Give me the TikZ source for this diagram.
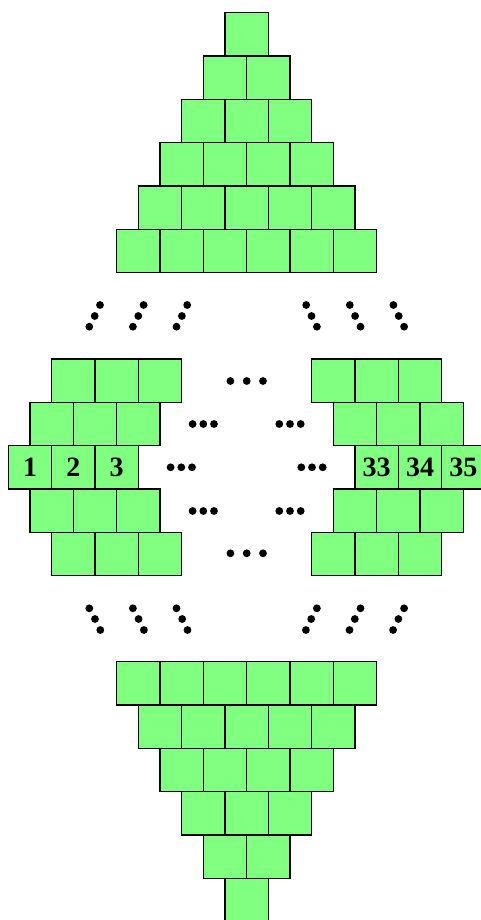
\documentclass[tikz,border=0pt]{standalone}
\usepackage{fontspec}
\setmainfont{Liberation Serif}
\definecolor{sqgreen}{RGB}{128,255,128}
\begin{document}
\begin{tikzpicture}[x=0.75pt,y=-0.75pt,
  sq/.style={draw=black,fill=sqgreen,line width=1pt,minimum size=32.5pt,inner sep=0pt,
    font=\bfseries\fontsize{21}{21}\selectfont},
  bead/.style={fill=black}]
\useasboundingbox (0,0) rectangle (481,920);
\clip (0,0) rectangle (481,920);
% top pyramid
\foreach \k in {0,...,5}{
  \foreach \i in {0,...,\k}{
    \node[sq] (t\k-\i) at ({246.7-\k*21.667+\i*43.333},{34.3+\k*43.333}) {};
  }
}
% bottom pyramid
\foreach \j in {0,...,5}{
  \pgfmathtruncatemacro{\n}{5-\j}
  \foreach \i in {0,...,\n}{
    \node[sq] (b\j-\i) at ({246.7-\n*21.667+\i*43.333},{683.3+\j*43.333}) {};
  }
}
% middle rows
\foreach \m in {0,1,3,4}{
  \pgfmathsetmacro{\d}{abs(\m-2)*21.667}
  \foreach \i in {0,1,2}{
    \node[sq] (l\m-\i) at ({8.3+\d+21.667+\i*43.333},{380.7+\m*43.333}) {};
    \node[sq] (r\m-\i) at ({355-\d+21.667+\i*43.333},{380.7+\m*43.333}) {};
  }
}
\node[sq] (l2-0) at (30,467.3) {1};
\node[sq] (l2-1) at (73.3,467.3) {2};
\node[sq] (l2-2) at (116.7,467.3) {3};
\node[sq] (r2-0) at (376.7,467.3) {33};
\node[sq] (r2-1) at (420,467.3) {34};
\node[sq] (r2-2) at (463.3,467.3) {35};
% horizontal dots
\foreach \x/\y/\s in {246.7/381/16.3, 203.3/424/10.7, 290/424/10.7, 181.3/467.3/10.7, 312/467.3/10.7,
                      203.3/511/10.7, 290/511/10.7, 246.7/553.3/16.3}{
  \foreach \t in {-1,0,1}{
    \fill[bead] ({\x+\t*\s},\y) circle (3.9);
  }
}
% diagonal dots
\foreach \g in {0,1,2}{
  \foreach \x/\y in {100/305, 94.7/316, 89.3/326.7}{
    \fill[bead] ({\x+43.6*\g},\y) circle (3.9);
    \fill[bead] ({493.4-\x-43.6*\g},\y) circle (3.9);
  }
  \foreach \x/\y in {89.3/608.3, 95/619, 100.3/630}{
    \fill[bead] ({\x+43.6*\g},\y) circle (3.9);
    \fill[bead] ({493.4-\x-43.6*\g},\y) circle (3.9);
  }
}
\end{tikzpicture}
\end{document}
